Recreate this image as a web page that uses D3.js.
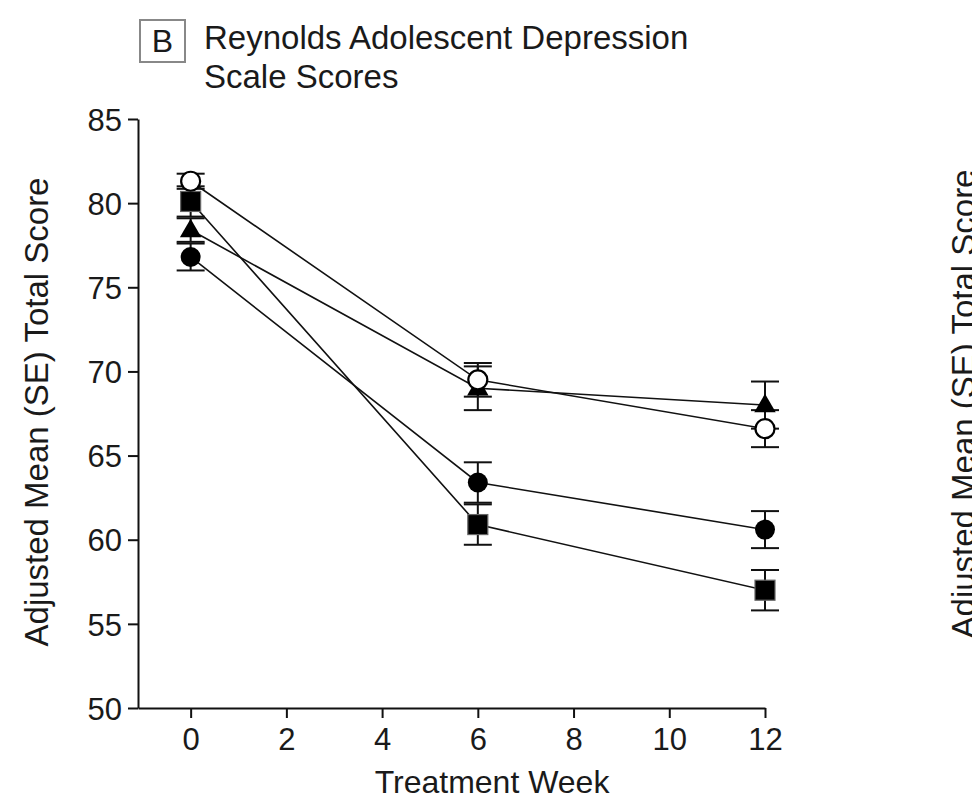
<!DOCTYPE html>
<html>
<head>
<meta charset="utf-8">
<script src="https://cdn.jsdelivr.net/npm/d3@7"></script>
<style>
  body { margin: 0; background: #fff; }
  svg { font-family: "Liberation Sans", Arial, sans-serif; }
</style>
</head>
<body>
<script>
// Reynolds Adolescent Depression Scale, panel B
var weeks = [0, 6, 12];
var xTicks = [0, 2, 4, 6, 8, 10, 12];
var yTicks = [50, 55, 60, 65, 70, 75, 80, 85];

var openCircle   = [81.3, 69.5, 66.6];
var openCircleSE = [0.45, 1.0, 1.1];
var square       = [80.1, 60.9, 57.0];
var squareSE     = [0.9, 1.2, 1.2];
var triangle     = [78.4, 69.0, 68.0];
var triangleSE   = [0.7, 1.3, 1.4];
var dot          = [76.8, 63.4, 60.6];
var dotSE        = [0.8, 1.2, 1.1];

var series = [
    {shape: 'square', values: square, se: squareSE},
    {shape: 'triangle', values: triangle, se: triangleSE},
    {shape: 'dot', values: dot, se: dotSE},
    {shape: 'open', values: openCircle, se: openCircleSE}
];

var w = 972;
var h = 802;
var svg = d3.select('body')
            .append('svg')
            .attr('width', w)
            .attr('height', h);

var xScale = d3.scaleLinear()
               .domain([-1.1, 12])
               .range([138, 765]);
var yScale = d3.scaleLinear()
               .domain([50, 85])
               .range([708, 119]);

// axes
var xAxis = svg.append('g')
   .attr('transform', 'translate(0,708)')
   .call(d3.axisBottom(xScale).tickValues(xTicks).tickSize(10).tickSizeOuter(0).tickPadding(10));
var yAxis = svg.append('g')
   .attr('transform', 'translate(138,0)')
   .call(d3.axisLeft(yScale).tickValues(yTicks).tickSize(10).tickSizeOuter(0).tickPadding(6));

[xAxis, yAxis].forEach(function(a) {
    a.selectAll('path, line').attr('stroke', '#111').attr('stroke-width', 2);
    a.selectAll('text').attr('font-size', 31).attr('fill', '#1a1a1a')
     .attr('font-family', '"Liberation Sans", Arial, sans-serif');
});
yAxis.selectAll('text').attr('dy', '0.36em');

// axis titles
svg.append('text')
   .attr('x', 492).attr('y', 793)
   .attr('text-anchor', 'middle')
   .attr('font-size', 32).attr('fill', '#1a1a1a')
   .text('Treatment Week');
svg.append('text')
   .attr('transform', 'translate(48,412) rotate(-90)')
   .attr('text-anchor', 'middle')
   .attr('font-size', 33).attr('fill', '#1a1a1a')
   .text('Adjusted Mean (SE) Total Score');
// clipped label of the neighbouring panel
svg.append('text')
   .attr('transform', 'translate(975,404) rotate(-90)')
   .attr('text-anchor', 'middle')
   .attr('font-size', 33).attr('fill', '#1a1a1a')
   .text('Adjusted Mean (SE) Total Score');

// panel header
svg.append('rect')
   .attr('x', 140).attr('y', 20).attr('width', 45).attr('height', 42)
   .attr('fill', 'none').attr('stroke', '#888').attr('stroke-width', 2);
svg.append('text')
   .attr('x', 162.5).attr('y', 52)
   .attr('text-anchor', 'middle')
   .attr('font-size', 32).attr('fill', '#1a1a1a')
   .text('B');
svg.append('text')
   .attr('x', 204).attr('y', 49)
   .attr('font-size', 33).attr('fill', '#1a1a1a')
   .text('Reynolds Adolescent Depression');
svg.append('text')
   .attr('x', 204).attr('y', 88)
   .attr('font-size', 33).attr('fill', '#1a1a1a')
   .text('Scale Scores');

// lines
var line = d3.line()
             .x(function(d, i) { return xScale(weeks[i]); })
             .y(function(d) { return yScale(d); });
svg.selectAll('path.series')
   .data(series)
   .enter()
   .append('path')
   .attr('class', 'series')
   .attr('d', function(d) { return line(d.values); })
   .attr('fill', 'none')
   .attr('stroke', '#111')
   .attr('stroke-width', 1.6);

// error bars
var bars = [];
series.forEach(function(s) {
    s.values.forEach(function(v, i) {
        bars.push({x: weeks[i], v: v, se: s.se[i]});
    });
});
var eb = svg.selectAll('g.err')
            .data(bars)
            .enter()
            .append('g')
            .attr('class', 'err')
            .attr('stroke', '#111')
            .attr('stroke-width', 2);
eb.append('line')
  .attr('x1', function(d) { return xScale(d.x); })
  .attr('x2', function(d) { return xScale(d.x); })
  .attr('y1', function(d) { return yScale(d.v - d.se); })
  .attr('y2', function(d) { return yScale(d.v + d.se); });
[-1, 1].forEach(function(sign) {
    eb.append('line')
      .attr('x1', function(d) { return xScale(d.x) - 14; })
      .attr('x2', function(d) { return xScale(d.x) + 14; })
      .attr('y1', function(d) { return yScale(d.v + sign * d.se); })
      .attr('y2', function(d) { return yScale(d.v + sign * d.se); });
});

// markers
series.forEach(function(s) {
    var g = svg.append('g');
    var pts = g.selectAll('.m')
               .data(s.values)
               .enter();
    if (s.shape === 'square') {
        pts.append('rect')
           .attr('x', function(d, i) { return xScale(weeks[i]) - 10; })
           .attr('y', function(d) { return yScale(d) - 10; })
           .attr('width', 20).attr('height', 20)
           .attr('fill', '#000').attr('stroke', '#666').attr('stroke-width', 1.2);
    } else if (s.shape === 'triangle') {
        pts.append('path')
           .attr('d', d3.symbol().type(d3.symbolTriangle).size(200))
           .attr('transform', function(d, i) {
               return 'translate(' + xScale(weeks[i]) + ',' + (yScale(d) + 1) + ')';
           })
           .attr('fill', '#000');
    } else if (s.shape === 'dot') {
        pts.append('circle')
           .attr('cx', function(d, i) { return xScale(weeks[i]); })
           .attr('cy', function(d) { return yScale(d); })
           .attr('r', 10)
           .attr('fill', '#000');
    } else {
        pts.append('circle')
           .attr('cx', function(d, i) { return xScale(weeks[i]); })
           .attr('cy', function(d) { return yScale(d); })
           .attr('r', 9.5)
           .attr('fill', '#fff').attr('stroke', '#000').attr('stroke-width', 2.2);
    }
});
</script>
</body>
</html>
